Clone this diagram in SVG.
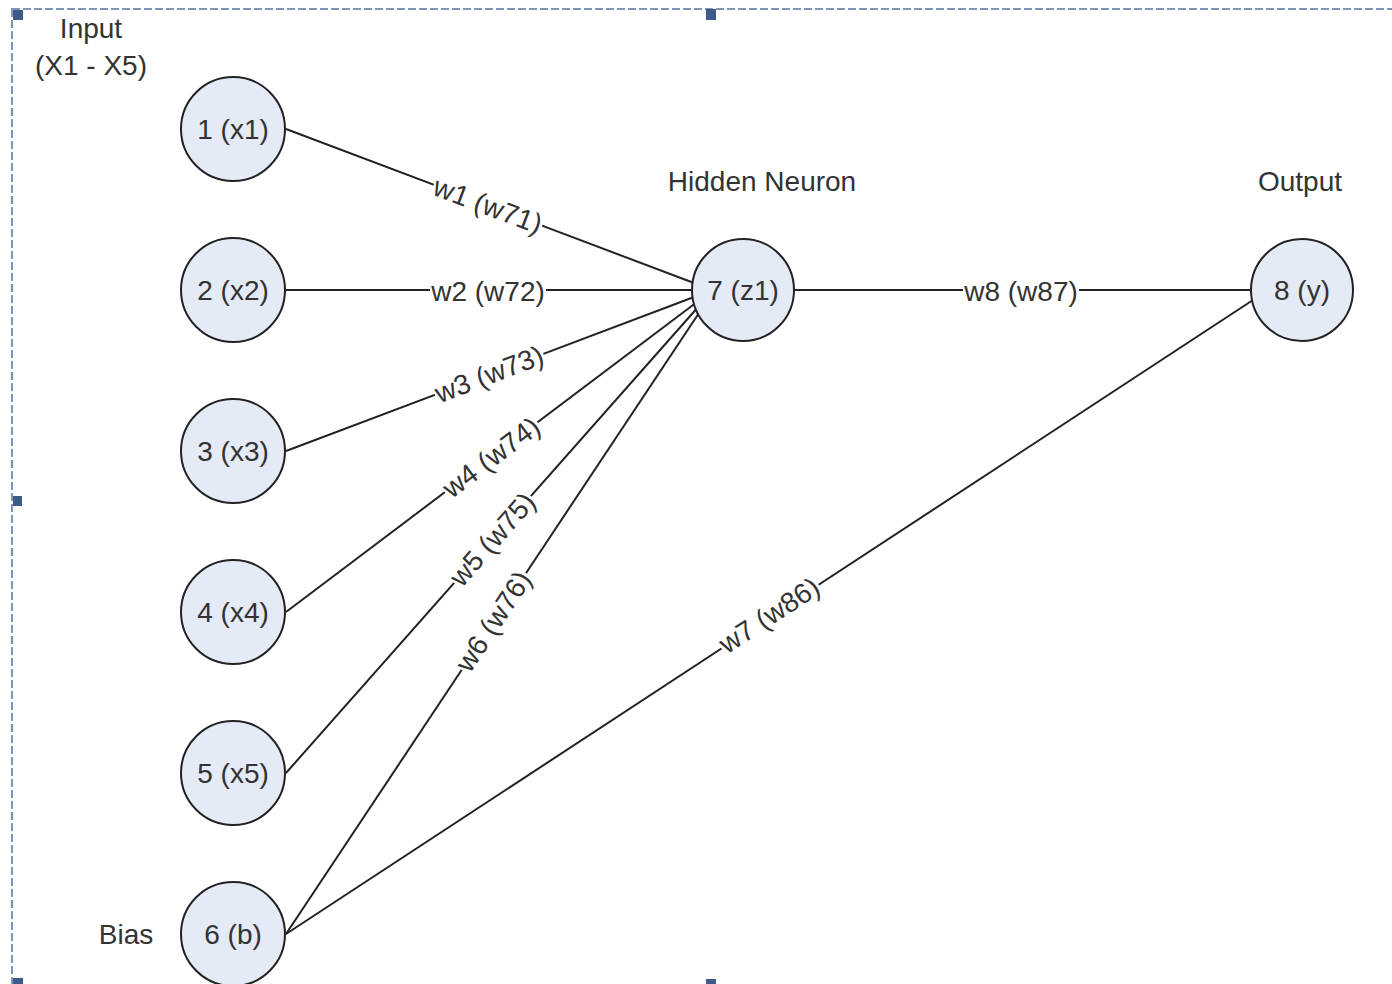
<svg xmlns="http://www.w3.org/2000/svg" width="1392" height="984" viewBox="0 0 1392 984">
<style>
.node circle{fill:#e4eaf6;stroke:#222;stroke-width:2}
text{font-family:"Liberation Sans",Arial,sans-serif;font-size:28px;fill:#333}
.nt{text-anchor:middle}
.conn line{stroke:#222;stroke-width:2}
.lbl rect{fill:#fff}
.lbl text{text-anchor:middle}
.frame{fill:none;stroke:#7f95b8;stroke-width:2;stroke-dasharray:8 3}
.handle{fill:#3d5a8a}
</style>
<rect width="1392" height="984" fill="#fff"/>
<rect class="frame" x="12" y="9" width="1400" height="980"/>
<rect class="handle" x="13" y="10" width="10" height="10"/>
<rect class="handle" x="706" y="9" width="10" height="11"/>
<rect class="handle" x="13" y="496" width="9" height="10"/>
<rect class="handle" x="13" y="978" width="10" height="8"/>
<rect class="handle" x="706" y="979" width="10" height="7"/>

<text x="91" y="38" class="nt">Input</text>
<text x="91" y="75" class="nt">(X1 - X5)</text>
<text x="762" y="191" class="nt">Hidden Neuron</text>
<text x="1300" y="191" class="nt">Output</text>
<text x="126" y="944" class="nt">Bias</text>

<g id="connectors" class="conn">
<line x1="286" y1="129" x2="694" y2="283"/>
<line x1="286" y1="290" x2="693" y2="290"/>
<line x1="286" y1="451" x2="694" y2="297"/>
<line x1="286" y1="612" x2="697" y2="302"/>
<line x1="286" y1="773" x2="699" y2="306"/>
<line x1="286" y1="934" x2="701" y2="310"/>
<line x1="286" y1="934" x2="1253" y2="300"/>
<line x1="794" y1="290" x2="1251" y2="290"/>
<g class="lbl" transform="translate(488,205) rotate(20.63)"><rect x="-58" y="-13" width="116" height="26"/><text x="0" y="10">w1 (w71)</text></g>
<g class="lbl" transform="translate(488,291)"><rect x="-58" y="-13" width="116" height="26"/><text x="0" y="10">w2 (w72)</text></g>
<g class="lbl" transform="translate(489,374) rotate(-20.73)"><rect x="-58" y="-13" width="116" height="26"/><text x="0" y="10">w3 (w73)</text></g>
<g class="lbl" transform="translate(491,457) rotate(-37)"><rect x="-58" y="-13" width="116" height="26"/><text x="0" y="10">w4 (w74)</text></g>
<g class="lbl" transform="translate(492,539) rotate(-48.6)"><rect x="-58" y="-13" width="116" height="26"/><text x="0" y="10">w5 (w75)</text></g>
<g class="lbl" transform="translate(493,621) rotate(-56.5)"><rect x="-58" y="-13" width="116" height="26"/><text x="0" y="10">w6 (w76)</text></g>
<g class="lbl" transform="translate(769,615) rotate(-33.25)"><rect x="-58" y="-13" width="116" height="26"/><text x="0" y="10">w7 (w86)</text></g>
<g class="lbl" transform="translate(1021,291)"><rect x="-58" y="-13" width="116" height="26"/><text x="0" y="10">w8 (w87)</text></g>
</g>

<g id="node1" class="node"><circle cx="233" cy="129" r="52"/><text x="233" y="139" class="nt">1 (x1)</text></g>
<g id="node2" class="node"><circle cx="233" cy="290" r="52"/><text x="233" y="300" class="nt">2 (x2)</text></g>
<g id="node3" class="node"><circle cx="233" cy="451" r="52"/><text x="233" y="461" class="nt">3 (x3)</text></g>
<g id="node4" class="node"><circle cx="233" cy="612" r="52"/><text x="233" y="622" class="nt">4 (x4)</text></g>
<g id="node5" class="node"><circle cx="233" cy="773" r="52"/><text x="233" y="783" class="nt">5 (x5)</text></g>
<g id="node6" class="node"><circle cx="233" cy="934" r="52"/><text x="233" y="944" class="nt">6 (b)</text></g>
<g id="node7" class="node"><circle cx="743" cy="290" r="51"/><text x="743" y="300" class="nt">7 (z1)</text></g>
<g id="node8" class="node"><circle cx="1302" cy="290" r="51"/><text x="1302" y="300" class="nt">8 (y)</text></g>
</svg>
